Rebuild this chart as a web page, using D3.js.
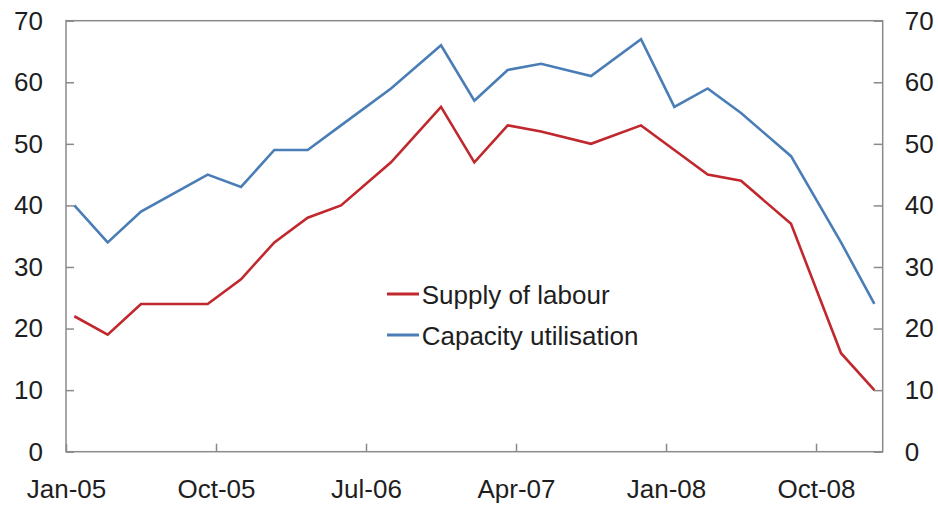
<!DOCTYPE html>
<html>
<head>
<meta charset="utf-8">
<script src="https://cdn.jsdelivr.net/npm/d3@7"></script>
<style>
  html, body { margin: 0; padding: 0; background: #fff; }
  svg { display: block; }
  text { font-family: "Liberation Sans", Arial, Helvetica, sans-serif; fill: #1e1e1e; }
</style>
</head>
<body>
<svg id="chart" width="938" height="506"></svg>
<script>
// Survey dates (year-month)
const dates = ["2005-01","2005-03","2005-05","2005-09","2005-11",
               "2006-01","2006-03","2006-05","2006-08","2006-11",
               "2007-01","2007-03","2007-05","2007-08","2007-11",
               "2008-01","2008-03","2008-05","2008-08","2008-11",
               "2009-01"];
const supplyOfLabour = [22,19,24,24,28, 34,38,40,47,56, 47,53,52,50,53, 49,45,44,37,16, 10];
const capacityUtilisation = [40,34,39,45,43, 49,49,53,59,66, 57,62,63,61,67, 56,59,55,48,34, 24];
const seriesNames = ["Supply of labour","Capacity utilisation"];
const xTickDates = ["2005-01","2005-10","2006-07","2007-04","2008-01","2008-10"];
const xTickLabels = ["Jan-05","Oct-05","Jul-06","Apr-07","Jan-08","Oct-08"];
const yTicks = [0,10,20,30,40,50,60,70];

const W = 938, H = 506;
const m = {left: 66, right: 55.3, top: 20.7, bottom: 54.3};
const svg = d3.select("#chart");

// months since Jan-2005 (start of month)
const monthIndex = s => { const [y, mo] = s.split("-").map(Number); return (y - 2005) * 12 + (mo - 1); };

const x = d3.scaleLinear().domain([0, 49]).range([m.left, W - m.right]);
const y = d3.scaleLinear().domain([0, 70]).range([H - m.bottom, m.top]);

const axisColor = "#8a8a8a";
const fontSize = 26;

// Frame
svg.append("rect")
  .attr("x", x(0)).attr("y", y(70))
  .attr("width", x(49) - x(0)).attr("height", y(0) - y(70))
  .attr("fill", "none").attr("stroke", axisColor).attr("stroke-width", 1.5);

function styleAxis(g) {
  g.select(".domain").remove();
  g.selectAll(".tick line").attr("stroke", axisColor).attr("stroke-width", 1.5);
  g.selectAll(".tick text").style("font-size", fontSize + "px").attr("fill", "#1e1e1e");
}

// Left axis
svg.append("g").attr("transform", `translate(${x(0)},0)`)
  .call(d3.axisLeft(y).tickValues(yTicks).tickSize(-8).tickPadding(23).tickFormat(d3.format("d")))
  .call(styleAxis);

// Right axis
svg.append("g").attr("transform", `translate(${x(49)},0)`)
  .call(d3.axisRight(y).tickValues(yTicks).tickSize(-9).tickPadding(22).tickFormat(d3.format("d")))
  .call(styleAxis);

// Bottom axis
const tickMap = new Map(xTickDates.map((d, i) => [monthIndex(d), xTickLabels[i]]));
svg.append("g").attr("transform", `translate(0,${y(0)})`)
  .call(d3.axisBottom(x).tickValues(xTickDates.map(monthIndex)).tickSize(-8).tickPadding(27.5)
        .tickFormat(d => tickMap.get(d)))
  .call(styleAxis);

// Lines
const colors = ["#c0282d", "#4a7db5"];
const seriesData = [supplyOfLabour, capacityUtilisation];
const line = d3.line()
  .x((d, i) => x(monthIndex(dates[i]) + 0.5))
  .y(d => y(d));

seriesData.forEach((vals, k) => {
  svg.append("path")
    .datum(vals)
    .attr("d", line)
    .attr("fill", "none")
    .attr("stroke", colors[k])
    .attr("stroke-width", 2.6)
    .attr("stroke-linejoin", "miter");
});

// Legend
const legend = svg.append("g").attr("transform", "translate(387,294)");
seriesNames.forEach((name, k) => {
  const gy = k * 41;
  legend.append("line")
    .attr("x1", 0).attr("x2", 32).attr("y1", gy).attr("y2", gy)
    .attr("stroke", colors[k]).attr("stroke-width", 3);
  legend.append("text")
    .attr("x", 34.7).attr("y", gy + 10)
    .style("font-size", fontSize + "px")
    .text(name);
});
</script>
</body>
</html>
